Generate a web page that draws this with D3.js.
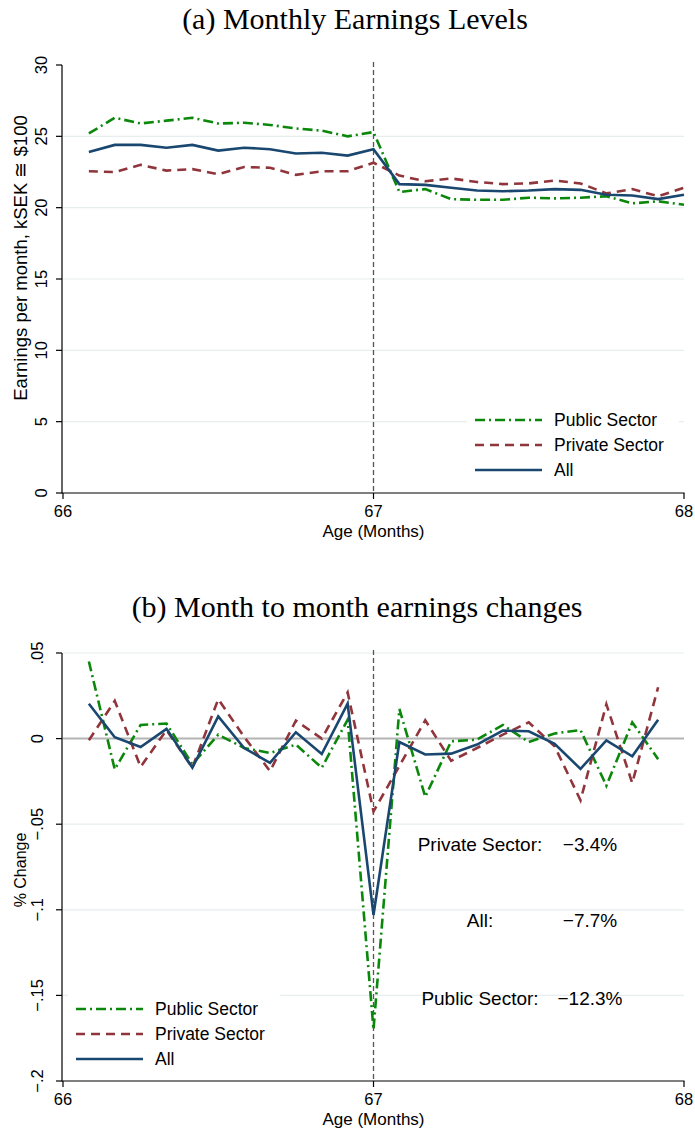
<!DOCTYPE html>
<html>
<head>
<meta charset="utf-8">
<script src="https://cdn.jsdelivr.net/npm/d3@7"></script>
<style>
  body { margin: 0; background: #fff; }
  svg { display: block; }
  .tick-label { font-family: "Liberation Sans", Arial, sans-serif; font-size: 16.5px; fill: #000; }
  .axis-title { font-family: "Liberation Sans", Arial, sans-serif; font-size: 17px; fill: #000; }
  .panel-title { font-family: "Liberation Serif", "Times New Roman", serif; font-size: 30px; fill: #000; }
  .legend-text { font-family: "Liberation Sans", Arial, sans-serif; font-size: 17.5px; fill: #000; }
  .note { font-family: "Liberation Sans", Arial, sans-serif; font-size: 19px; fill: #000; }
</style>
</head>
<body>
<svg id="chart" width="695" height="1130"></svg>
<script>
// month index after age 66 (1 = 66 years + 1 month)
var monthIdx = [1, 2, 3, 4, 5, 6, 7, 8, 9, 10, 11, 12, 13, 14, 15, 16, 17, 18, 19, 20, 21, 22, 23, 24];

// (a) monthly earnings levels, kSEK
var levelPublic  = [25.2, 26.3, 25.9, 26.1, 26.3, 25.9, 25.95, 25.8, 25.55, 25.4, 25.0, 25.3,
                    21.1, 21.3, 20.6, 20.55, 20.55, 20.7, 20.65, 20.7, 20.8, 20.3, 20.45, 20.2];
var levelPrivate = [22.55, 22.5, 23.0, 22.6, 22.7, 22.35, 22.85, 22.8, 22.3, 22.55, 22.55, 23.15,
                    22.25, 21.85, 22.05, 21.8, 21.65, 21.7, 21.9, 21.7, 21.0, 21.3, 20.8, 21.4];
var levelAll     = [23.9, 24.4, 24.4, 24.2, 24.4, 24.0, 24.2, 24.1, 23.8, 23.85, 23.65, 24.1,
                    21.65, 21.6, 21.4, 21.2, 21.15, 21.2, 21.3, 21.25, 20.9, 20.85, 20.6, 20.9];

// (b) month to month changes (23 months)
var changePublic  = [0.045, -0.018, 0.008, 0.0088, -0.015, 0.0023, -0.0055, -0.0084, -0.0035, -0.017, 0.011, -0.17,
                     0.0173, -0.034, -0.0016, -0.0006, 0.008, -0.002, 0.003, 0.005, -0.0275, 0.0095, -0.012];
var changePrivate = [-0.001, 0.022, -0.0165, 0.005, -0.017, 0.023, 0.001, -0.019, 0.0105, 0, 0.027, -0.0425,
                     -0.016, 0.0107, -0.013, -0.0055, 0.0023, 0.0095, -0.0045, -0.036, 0.02, -0.026, 0.030];
var changeAll     = [0.0204, 0.0008, -0.0049, 0.0057, -0.017, 0.013, -0.0055, -0.0142, 0.0037, -0.009, 0.0204, -0.103,
                     -0.002, -0.0093, -0.0088, -0.0035, 0.0047, 0.0043, -0.0031, -0.0177, -0.001, -0.0103, 0.011];

var xTicks = [66, 67, 68];
var levelTicks = [0, 5, 10, 15, 20, 25, 30];
var changeTicks = [-0.2, -0.15, -0.1, -0.05, 0, 0.05];
var changeTickLabels = ["\u2212.2", "\u2212.15", "\u2212.1", "\u2212.05", "0", ".05"];

var seriesNames = ["Public Sector", "Private Sector", "All"];
var noteLabels = ["Private Sector:", "All:", "Public Sector:"];
var noteValues = ["\u22123.4%", "\u22127.7%", "\u221212.3%"];

var styles = [
  { color: "#0b880b", dash: "10,4,2,4" },
  { color: "#90353b", dash: "9,6" },
  { color: "#1a476f", dash: null }
];

var svg = d3.select("#chart");
var x = d3.scaleLinear().domain([66, 68]).range([63, 684]);
var age = function(m) { return 66 + m / 12; };

function drawPanel(opts) {
  var g = svg.append("g");
  var y = opts.y;
  var top = y.range()[1], bottom = y.range()[0];

  // gridlines
  g.selectAll(".grid").data(opts.grid).enter().append("line")
    .attr("x1", 63).attr("x2", 684)
    .attr("y1", function(d) { return y(d) }).attr("y2", function(d) { return y(d) })
    .attr("stroke", "#e6eef0").attr("stroke-width", 1.2);

  if (opts.zeroLine) {
    g.append("line").attr("x1", 63).attr("x2", 684)
      .attr("y1", y(0)).attr("y2", y(0))
      .attr("stroke", "#b4b4b4").attr("stroke-width", 2);
  }

  // legend box hides gridlines
  g.append("rect").attr("x", opts.legend.x - 8).attr("y", opts.legend.y - 22)
    .attr("width", opts.legend.w).attr("height", 86).attr("fill", "#fff");

  // vertical marker at 67
  g.append("line").attr("x1", x(67)).attr("x2", x(67))
    .attr("y1", top - 3).attr("y2", bottom)
    .attr("stroke", "#555").attr("stroke-width", 1.3).attr("stroke-dasharray", "5,3");

  // series
  var line = d3.line()
    .x(function(d) { return x(age(d.m)) })
    .y(function(d) { return y(d.v) });
  opts.series.forEach(function(vals, i) {
    var pts = vals.map(function(v, j) { return { m: monthIdx[j], v: v } });
    g.append("path").datum(pts)
      .attr("d", line)
      .attr("fill", "none")
      .attr("stroke", styles[i].color)
      .attr("stroke-width", 2.6)
      .attr("stroke-linejoin", "miter")
      .attr("stroke-dasharray", styles[i].dash);
  });

  // axes
  g.append("line").attr("x1", 62).attr("x2", 62).attr("y1", top).attr("y2", bottom + 0.5)
    .attr("stroke", "#000").attr("stroke-width", 1.2);
  g.append("line").attr("x1", 62).attr("x2", 684.5).attr("y1", bottom).attr("y2", bottom)
    .attr("stroke", "#000").attr("stroke-width", 1.2);

  g.selectAll(".yt").data(opts.yTicks).enter().append("line")
    .attr("x1", 56).attr("x2", 62)
    .attr("y1", function(d) { return y(d) }).attr("y2", function(d) { return y(d) })
    .attr("stroke", "#000").attr("stroke-width", 1.2);
  g.selectAll(".yl").data(opts.yTicks).enter().append("text")
    .attr("class", "tick-label")
    .attr("text-anchor", "middle")
    .attr("transform", function(d) { return "translate(" + opts.yLabelX + "," + y(d) + ") rotate(-90)" })
    .text(function(d, i) { return opts.yFormat(d, i) });

  g.selectAll(".xt").data(xTicks).enter().append("line")
    .attr("x1", function(d) { return x(d) }).attr("x2", function(d) { return x(d) })
    .attr("y1", bottom).attr("y2", bottom + 6)
    .attr("stroke", "#000").attr("stroke-width", 1.2);
  g.selectAll(".xl").data(xTicks).enter().append("text")
    .attr("class", "tick-label")
    .attr("text-anchor", "middle")
    .attr("x", function(d) { return x(d) }).attr("y", bottom + 24)
    .text(function(d) { return d });

  g.append("text").attr("class", "axis-title").attr("text-anchor", "middle")
    .attr("x", x(67)).attr("y", bottom + 44).text("Age (Months)");
  g.append("text").attr("class", "axis-title").attr("text-anchor", "middle")
    .style("font-size", opts.yTitleSize + "px")
    .attr("transform", "translate(" + opts.yTitleX + "," + opts.yTitleY + ") rotate(-90)")
    .text(opts.yTitle);

  g.append("text").attr("class", "panel-title").attr("text-anchor", "middle")
    .attr("x", opts.titleX).attr("y", opts.titleY).text(opts.title);

  // legend
  var lg = g.append("g").attr("transform", "translate(" + opts.legend.x + "," + opts.legend.y + ")");
  seriesNames.forEach(function(name, i) {
    lg.append("line").attr("x1", 0).attr("x2", 67).attr("y1", i * 25).attr("y2", i * 25)
      .attr("stroke", styles[i].color).attr("stroke-width", 2.6)
      .attr("stroke-dasharray", styles[i].dash);
    lg.append("text").attr("class", "legend-text")
      .attr("x", 79).attr("y", i * 25 + 6).text(name);
  });
  return g;
}

drawPanel({
  y: d3.scaleLinear().domain([0, 30]).range([493, 65]),
  grid: [5, 10, 15, 20, 25],
  yTicks: levelTicks,
  yFormat: function(d) { return d },
  yLabelX: 47,
  yTitleX: 27, yTitleY: 258, yTitleSize: 18.5,
  yTitle: "Earnings per month, kSEK \u2245 $100",
  series: [levelPublic, levelPrivate, levelAll],
  legend: { x: 475, y: 420, w: 212 },
  title: "(a) Monthly Earnings Levels",
  titleX: 355, titleY: 29
});

var bottomPanel = drawPanel({
  y: d3.scaleLinear().domain([-0.2, 0.05]).range([1081, 653]),
  grid: [-0.15, -0.1, -0.05, 0.05],
  zeroLine: true,
  yTicks: changeTicks,
  yFormat: function(d, i) { return changeTickLabels[i] },
  yLabelX: 43,
  yTitleX: 26, yTitleY: 870, yTitleSize: 16,
  yTitle: "% Change",
  series: [changePublic, changePrivate, changeAll],
  legend: { x: 76, y: 1009, w: 212 },
  title: "(b) Month to month earnings changes",
  titleX: 357, titleY: 617
});

// drop annotations
var noteY = [844, 920, 998];
noteLabels.forEach(function(t, i) {
  bottomPanel.append("text").attr("class", "note").attr("text-anchor", "middle")
    .attr("x", 480).attr("y", noteY[i] + 7).text(t);
  bottomPanel.append("text").attr("class", "note").attr("text-anchor", "middle")
    .attr("x", 590).attr("y", noteY[i] + 7).text(noteValues[i]);
});
</script>
</body>
</html>
